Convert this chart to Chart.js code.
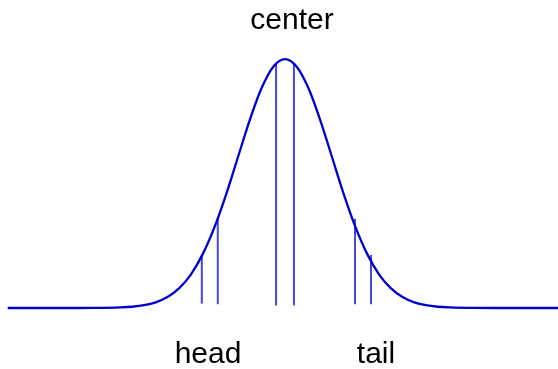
<!DOCTYPE html>
<html>
<head>
<meta charset="utf-8">
<script src="https://cdn.jsdelivr.net/npm/chart.js@4"></script>
<style>
  html, body { margin: 0; padding: 0; background: #fff; }
  #wrap { width: 558px; height: 369px; }
</style>
</head>
<body>
<div id="wrap"><canvas id="curve"></canvas></div>
<script>
// -- Data --
// density curve, sampled every 0.25
const curveX = [-5.9, -5, -4.5, -4, -3.5, -3.25, -3, -2.75, -2.5, -2.25, -2, -1.75, -1.5, -1.25, -1,
                -0.75, -0.5, -0.25, 0, 0.25, 0.5, 0.75, 1, 1.25, 1.5, 1.75, 2, 2.25, 2.5, 2.75,
                3, 3.25, 3.5, 4, 4.5, 5, 5.9];
const curveY = [0, 0, 0, 0.0001, 0.0009, 0.002, 0.0044, 0.0091, 0.0175, 0.0317, 0.054, 0.0863, 0.1295, 0.1826, 0.242,
                0.3011, 0.3521, 0.3867, 0.399, 0.3867, 0.3521, 0.3011, 0.242, 0.1826, 0.1295, 0.0863, 0.054, 0.0317, 0.0175, 0.0091,
                0.0044, 0.002, 0.0009, 0.0001, 0, 0, 0];

// vertical marks: position, top (on the curve), bottom
const markX    = [-1.77, -1.43, -0.19, 0.19, 1.49, 1.83];
const markTop  = [0.085, 0.144, 0.392, 0.392, 0.143, 0.085];
const markBase = [0.007, 0.006, 0.004, 0.004, 0.006, 0.006];

// text labels
const labelText = ['center', 'head', 'tail'];

const BLUE = '#0000cc';
const MARK_BLUE = 'rgba(20, 20, 215, 0.78)';

// -- Datasets --
const datasets = [{
    label: 'density',
    data: curveX.map((x, i) => ({ x: x, y: curveY[i] })),
    borderColor: BLUE,
    borderWidth: 2.3,
    pointRadius: 0,
    cubicInterpolationMode: 'monotone',
    fill: false
}];

markX.forEach((x, i) => {
    datasets.push({
        label: 'mark' + i,
        data: [{ x: x, y: markBase[i] }, { x: x, y: markTop[i] }],
        borderColor: MARK_BLUE,
        borderWidth: 2,
        pointRadius: 0,
        borderCapStyle: 'butt'
    });
});

// -- Labels drawn on top of the plot --
const textLabels = {
    id: 'textLabels',
    afterDraw(chart, args, opts) {
        const ctx = chart.ctx;
        ctx.save();
        ctx.font = '30px "Liberation Sans", Arial, sans-serif';
        ctx.fillStyle = '#000';
        ctx.textAlign = 'center';
        ctx.textBaseline = 'alphabetic';
        opts.items.forEach(it => ctx.fillText(it.text, it.x, it.y));
        ctx.restore();
    }
};

new Chart(document.getElementById('curve'), {
    type: 'line',
    data: { datasets: datasets },
    options: {
        responsive: true,
        maintainAspectRatio: false,
        animation: false,
        layout: { padding: 0 },
        scales: {
            x: { type: 'linear', display: false, min: -6.064, max: 5.809 },
            y: { display: false, min: -0.0978, max: 0.4936 }
        },
        plugins: {
            legend: { display: false },
            tooltip: { enabled: false },
            textLabels: {
                items: [
                    { text: labelText[0], x: 292, y: 29 },
                    { text: labelText[1], x: 208, y: 363 },
                    { text: labelText[2], x: 376, y: 363 }
                ]
            }
        }
    },
    plugins: [textLabels]
});
</script>
</body>
</html>
